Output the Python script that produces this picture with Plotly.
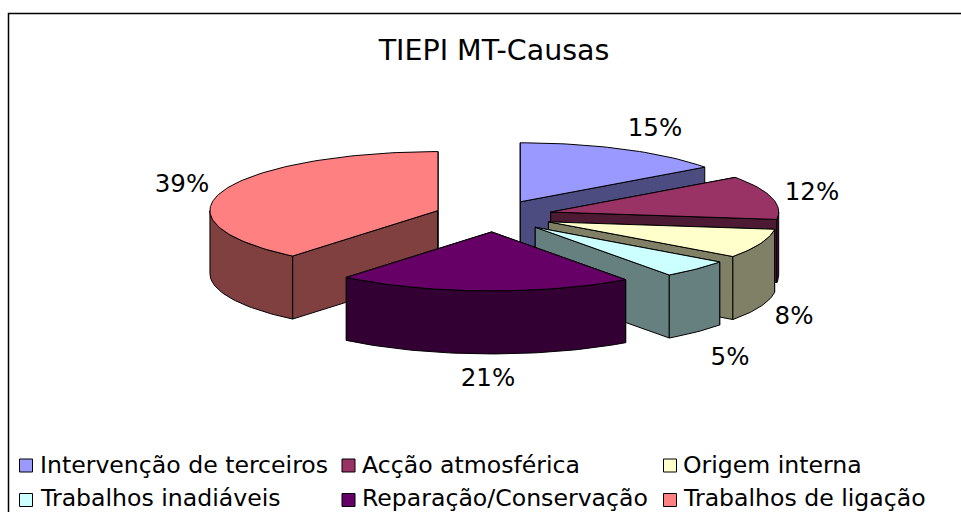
import math
import plotly.graph_objects as go

categories = ["Intervenção de terceiros", "Acção atmosférica", "Origem interna",
              "Trabalhos inadiáveis", "Reparação/Conservação", "Trabalhos de ligação"]
values = [15, 12, 8, 5, 21, 39]
colors = ["#9999FF", "#993366", "#FFFFCC", "#CCFFFF", "#660066", "#FF8080"]
title_text = "TIEPI MT-Causas"

W, H = 961, 512
CX, CY = 493.5, 216    # pie centre in pixels
A, B = 228, 59         # ellipse radii
DEPTH = 63             # height of the extruded pie
EXPLODE = 0.259
FONT = "DejaVu Sans"

label_pos = [(655, 130), (812, 194), (794, 318), (730, 359), (488, 380), (182, 186)]
swatch_x = [26, 348.5, 670]
text_x = [37.5, 359.5, 680.5]
row_y = [465.5, 500]
text_y = [465, 497.5]


def darker(hex_color):
    r, g, b = (int(hex_color[i:i + 2], 16) for i in (1, 3, 5))
    return f"rgb({round(r / 2)},{round(g / 2)},{round(b / 2)})"


def pt(apex, deg, dy=0.0):
    t = math.radians(deg)
    return apex[0] + A * math.sin(t), apex[1] - B * math.cos(t) + dy


def arc(apex, a0, a1, dy=0.0):
    n = max(2, int(abs(a1 - a0) / 1.5))
    return [pt(apex, a0 + (a1 - a0) * i / n, dy) for i in range(n + 1)]


fig = go.Figure()


def poly(points, fill):
    xs = [p[0] for p in points] + [points[0][0]]
    ys = [p[1] for p in points] + [points[0][1]]
    fig.add_trace(go.Scatter(x=xs, y=ys, mode="lines", fill="toself", fillcolor=fill,
                             line=dict(color="black", width=1), hoverinfo="skip",
                             showlegend=False))


slices = []
cum = 0
total = sum(values)
for v, c in zip(values, colors):
    a0 = cum / total * 360
    cum += v
    a1 = cum / total * 360
    mid = math.radians((a0 + a1) / 2)
    apex = (CX + EXPLODE * A * math.sin(mid), CY - 0.27 * B * math.cos(mid))
    slices.append((apex, a0, a1, c))

# painter's order: back slice (last) first, then clockwise to the front
for apex, a0, a1, c in [slices[5]] + slices[:5]:
    side = darker(c)
    for ang in (a0, a1):
        p = pt(apex, ang)
        poly([apex, p, (p[0], p[1] + DEPTH), (apex[0], apex[1] + DEPTH)], side)
    lo, hi = max(a0, 90), min(a1, 270)
    if lo < hi:
        poly(arc(apex, lo, hi) + arc(apex, hi, lo, DEPTH), side)
    poly([apex] + arc(apex, a0, a1), c)

# percentage labels
fig.add_trace(go.Scatter(x=[p[0] for p in label_pos], y=[p[1] for p in label_pos],
                         mode="text", text=[f"{v}%" for v in values],
                         textposition="middle center",
                         textfont=dict(family=FONT, size=24.5, color="black"),
                         hoverinfo="skip", showlegend=False))

# legend
for i, (name, c) in enumerate(zip(categories, colors)):
    row, col = divmod(i, 3)
    fig.add_trace(go.Scatter(x=[swatch_x[col]], y=[row_y[row]], mode="markers",
                             marker=dict(symbol="square", size=13, color=c,
                                         line=dict(color="black", width=1)),
                             hoverinfo="skip", showlegend=False))
    fig.add_annotation(x=text_x[col], y=text_y[row], text=name, showarrow=False,
                       xanchor="left", yanchor="middle",
                       font=dict(family=FONT, size=23.6, color="black"))

fig.update_layout(
    width=W, height=H, margin=dict(l=0, r=0, t=0, b=0),
    paper_bgcolor="white", plot_bgcolor="white",
    title=dict(text=title_text, x=494 / W, xanchor="center", y=1 - 50 / H, yanchor="middle",
               font=dict(family=FONT, size=28.5, color="black")),
    xaxis=dict(range=[0, W], visible=False, fixedrange=True),
    yaxis=dict(range=[H, 0], visible=False, fixedrange=True),
    shapes=[dict(type="rect", xref="x", yref="y", x0=8.5, y0=13.5, x1=975, y1=530,
                 line=dict(color="black", width=1.5), layer="below")],
)

fig.write_html("out.html", config={"displayModeBar": False},
               post_script="document.body.style.margin='0';document.body.style.overflow='hidden';")
